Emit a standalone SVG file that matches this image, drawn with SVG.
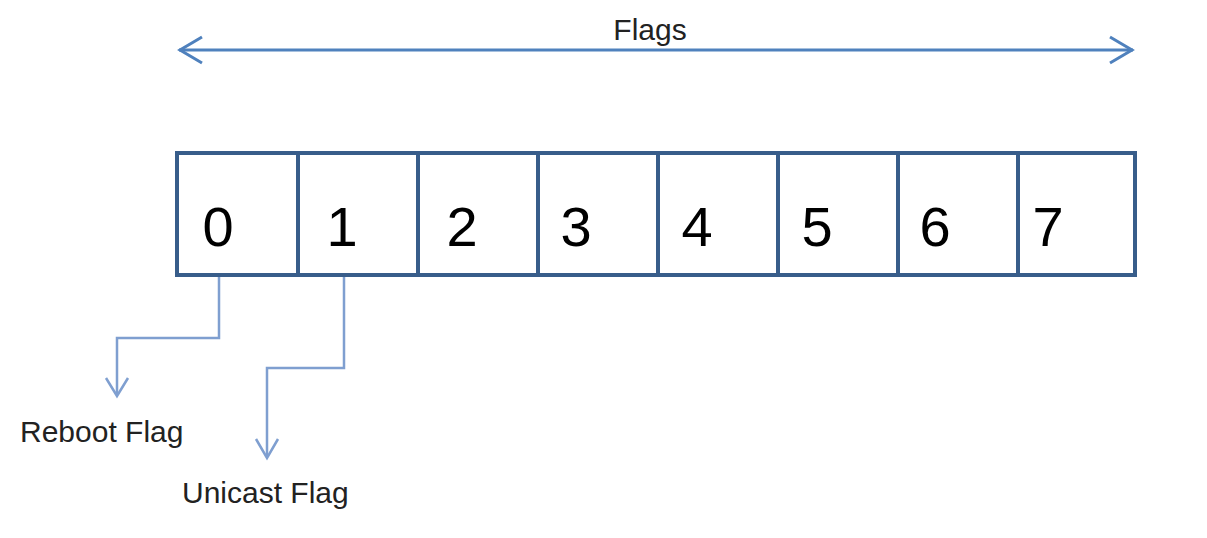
<svg xmlns="http://www.w3.org/2000/svg" width="1207" height="538" viewBox="0 0 1207 538">
<style>
.cell{fill:#fff;stroke:#385d8a;stroke-width:4}
.digit{font-family:"Liberation Sans",Arial,sans-serif;font-size:56px;fill:#000;text-anchor:middle}
.lbl{font-family:"Liberation Sans",Arial,sans-serif;font-size:30px;fill:#222}
.main{fill:none;stroke:#4f81bd;stroke-width:3}
.conn{fill:none;stroke:#7f9fd0;stroke-width:2.5}
</style>
<g id="flags">
<text class="lbl" x="650" y="40" text-anchor="middle" font-size="32">Flags</text>
<path class="main" d="M179,50 H1133"/>
<path class="main" d="M202,37 L180,50 L202,63"/>
<path class="main" d="M1110,37 L1132,50 L1110,63"/>
</g>
<g id="register">
<g id="bit0"><rect class="cell" x="177" y="153" width="121" height="122"/><text class="digit" x="218" y="246">0</text></g>
<g id="bit1"><rect class="cell" x="298" y="153" width="120" height="122"/><text class="digit" x="342" y="246">1</text></g>
<g id="bit2"><rect class="cell" x="418" y="153" width="120" height="122"/><text class="digit" x="462" y="246">2</text></g>
<g id="bit3"><rect class="cell" x="538" y="153" width="120" height="122"/><text class="digit" x="576" y="246">3</text></g>
<g id="bit4"><rect class="cell" x="658" y="153" width="120" height="122"/><text class="digit" x="697" y="246">4</text></g>
<g id="bit5"><rect class="cell" x="778" y="153" width="120" height="122"/><text class="digit" x="817" y="246">5</text></g>
<g id="bit6"><rect class="cell" x="898" y="153" width="120" height="122"/><text class="digit" x="935" y="246">6</text></g>
<g id="bit7"><rect class="cell" x="1018" y="153" width="117" height="122"/><text class="digit" x="1048" y="246">7</text></g>
</g>
<g id="connectors">
<path class="conn" d="M219,277 V338 H117 V395"/>
<path class="conn" d="M106,378 L117,396 L128,378"/>
<path class="conn" d="M344,277 V368 H267 V457"/>
<path class="conn" d="M256,439 L267,458 L278,439"/>
</g>
<g id="reboot"><text class="lbl" x="20" y="442">Reboot Flag</text></g>
<g id="unicast"><text class="lbl" x="182" y="503">Unicast Flag</text></g>
</svg>
